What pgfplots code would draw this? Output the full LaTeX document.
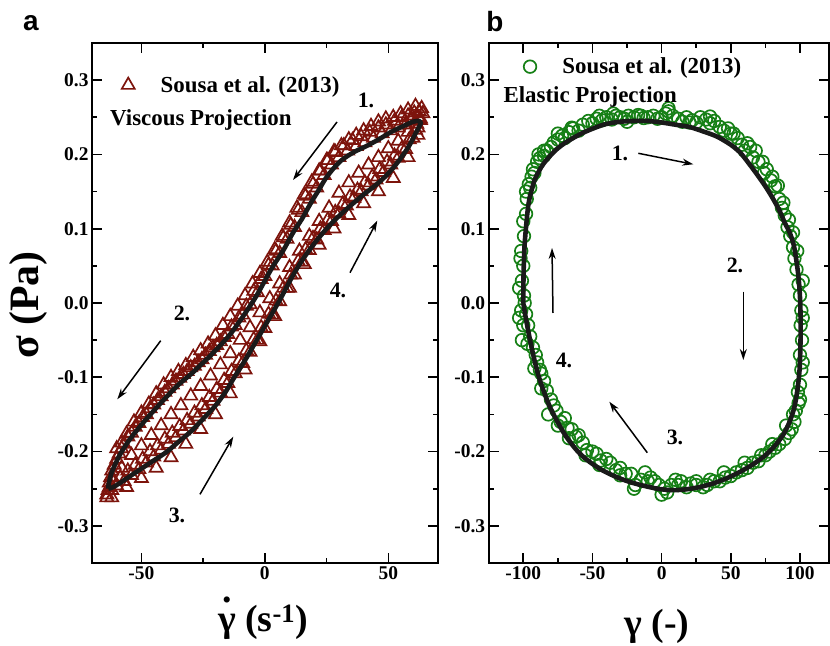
\documentclass[border=0pt]{standalone}
\usepackage{fontspec}
\setmainfont{Liberation Serif}
\newfontfamily\lsans{Liberation Sans}
\usepackage{pgfplots}
\pgfplotsset{compat=1.18}
\usetikzlibrary{arrows.meta}
\definecolor{tri}{RGB}{125,20,12}
\definecolor{grn}{RGB}{22,128,22}
\definecolor{crv}{RGB}{26,26,26}
\newcommand{\gdot}{\ooalign{γ\cr\hidewidth\raisebox{0.76em}{.}\hidewidth\cr}}
\pgfplotsset{
 geomA/.style={at={(92bp,83bp)}, anchor=south west, scale only axis,
   width=345.7bp, height=520bp, xmin=-70, xmax=70, ymin=-0.35, ymax=0.35},
 geomB/.style={at={(488.7bp,83bp)}, anchor=south west, scale only axis,
   width=340.3bp, height=520bp, xmin=-125, xmax=121, ymin=-0.35, ymax=0.35},
 myaxis/.style={
  ytick={-0.3,-0.2,-0.1,0,0.1,0.2,0.3},
  yticklabels={-0.3,-0.2,-0.1,0.0,0.1,0.2,0.3},
  minor ytick={-0.25,-0.15,-0.05,0.05,0.15,0.25},
  tick align=inside,
  major tick length=10bp, minor tick length=5bp,
  axis line style={line width=1.6bp},
  every tick/.style={line width=1.6bp, black},
  tick label style={font=\bfseries\fontsize{19.5}{21}\selectfont},
  legend style={draw=none, fill=none, inner sep=0pt, anchor=west,
    font=\bfseries\fontsize{23}{26}\selectfont},
 },
 crvstyle/.style={crv, line width=4.6bp, smooth, tension=0.5, line join=round}
}
\begin{document}
\begin{tikzpicture}[x=1bp,y=1bp]
\useasboundingbox (0,0) rectangle (830,646);
% ---------------- panel a ----------------
\begin{axis}[geomA, myaxis,
  xtick={-50,0,50}, xticklabels={-50,0,50}, minor xtick={-25,25},
  legend style={at={(0.0855,0.919)}}]
\addplot[only marks, mark=triangle, mark size=7.5bp, tri, line width=1.7bp]
coordinates {
(64,0.255) (63.5,0.262) (63,0.248) (62.5,0.258) (62,0.250) (61.5,0.241) (60.5,0.256)
(59.5,0.247) (58,0.252) (57,0.240) (55.5,0.250) (54,0.236) (52.5,0.245) (51,0.232)
(49,0.240) (47.5,0.228) (46,0.236) (44,0.222) (42.5,0.230) (40.5,0.216) (39,0.224)
(37,0.211) (35.5,0.219) (33.5,0.205) (32,0.212) (30,0.196) (28.5,0.203) (27,0.186)
(25.5,0.192) (24,0.172) (22.5,0.178) (21,0.155) (19.5,0.160) (18,0.140) (16.5,0.144)
(15,0.122) (13.5,0.125) (12,0.102) (10.5,0.105) (9,0.086) (7.5,0.088) (6,0.067)
(4.5,0.070) (3,0.050) (1.5,0.051) (0,0.036) (-1.5,0.032) (-3,0.014) (-4.5,0.016)
(-6,-0.002) (-7.5,-0.004) (-9,-0.016) (-10.5,-0.020) (-12,-0.030) (-13.5,-0.032)
(-15,-0.042) (-16.5,-0.046) (-18,-0.052) (-19.5,-0.057) (-21,-0.060) (-22.5,-0.065)
(-24,-0.070) (-25.5,-0.076) (-27,-0.080) (-28.5,-0.085) (-30,-0.087) (-31.5,-0.092)
(-33,-0.096) (-34.5,-0.101) (-36,-0.105) (-37.5,-0.110) (-39,-0.115) (-40.5,-0.120)
(-42,-0.126) (-43.5,-0.131) (-45,-0.137) (-46.5,-0.142) (-48,-0.150) (-49.5,-0.154)
(-51,-0.162) (-52.5,-0.167) (-54,-0.175) (-55.5,-0.180) (-57,-0.190) (-58,-0.196)
(-59,-0.203) (-60,-0.210) (-61,-0.218) (-62,-0.226) (-62.5,-0.235) (-63,-0.242)
(-63.5,-0.252) (-64,-0.262)
(-64,-0.258) (-63,-0.248) (-62,-0.252) (-61,-0.240) (-60,-0.246) (-58.5,-0.235)
(-57,-0.240) (-55.5,-0.226) (-54,-0.232) (-52.5,-0.218) (-51,-0.224) (-49.5,-0.210)
(-48,-0.215) (-46.5,-0.200) (-45,-0.207) (-43.5,-0.192) (-42,-0.198) (-40.5,-0.183)
(-39,-0.190) (-37.5,-0.175) (-36,-0.181) (-34.5,-0.166) (-33,-0.172) (-31.5,-0.158)
(-30,-0.163) (-28.5,-0.148) (-27,-0.153) (-25.5,-0.138) (-24,-0.143) (-22.5,-0.127)
(-21,-0.132) (-19.5,-0.116) (-18,-0.121) (-16.5,-0.104) (-15,-0.108) (-13.5,-0.092)
(-12,-0.095) (-10.5,-0.078) (-9,-0.081) (-7.5,-0.064) (-6,-0.066) (-4.5,-0.049)
(-3,-0.050) (-1.5,-0.033) (0,-0.034) (1.5,-0.015) (3,-0.016) (4.5,0.003) (6,0.002)
(7.5,0.020) (9,0.020) (10.5,0.038) (12,0.038) (13.5,0.056) (15,0.055) (16.5,0.072)
(18,0.071) (19.5,0.087) (21,0.085) (22.5,0.100) (24,0.098) (25.5,0.112) (27,0.110)
(28.5,0.122) (30,0.120) (31.5,0.133) (33,0.131) (34.5,0.143) (36,0.141) (37.5,0.152)
(39,0.150) (40.5,0.162) (42,0.158) (43.5,0.170) (45,0.166) (46.5,0.180) (48,0.176)
(49.5,0.190) (51,0.186) (52.5,0.198) (54,0.195) (55.5,0.208) (57,0.207) (58.5,0.220)
(60,0.222) (61,0.233) (62,0.236) (63,0.246)
(-60,-0.196) (-58,-0.188) (-56,-0.176) (-53,-0.160) (-50,-0.148) (-47,-0.136)
(-44,-0.122) (-41,-0.110) (-38,-0.100) (-35,-0.092) (-32,-0.084) (-29,-0.073)
(-26,-0.064) (-23,-0.055) (-20,-0.044) (-17,-0.030) (-14,-0.018) (-11,-0.004)
(-8,0.010) (-5,0.026) (-2,0.040) (1,0.055) (4,0.072) (7,0.090) (10,0.108) (13,0.128)
(16,0.146) (19,0.163) (22,0.178) (25,0.192) (28,0.204) (31,0.212) (34,0.220)
(37,0.226) (40,0.232) (43,0.238) (46,0.244) (49,0.248) (52,0.250) (55,0.255)
(58,0.260) (61,0.265)
(-58,-0.222) (-54,-0.205) (-50,-0.192) (-46,-0.178) (-42,-0.165) (-38,-0.150)
(-34,-0.138) (-30,-0.125) (-26,-0.112) (-22,-0.098) (-18,-0.083) (-14,-0.068)
(-10,-0.050) (-6,-0.033) (-2,-0.013) (2,0.006) (6,0.026) (10,0.048) (14,0.070)
(18,0.090) (22,0.110) (26,0.128) (30,0.148) (34,0.162) (38,0.175) (42,0.186)
(46,0.196) (50,0.208) (54,0.218) (58,0.230)
(-62,-0.262) (-56,-0.248) (-50,-0.236) (-44,-0.222) (-38,-0.208) (-32,-0.190)
(-26,-0.170) (-20,-0.150) (-14,-0.122) (-8,-0.090) (-2,-0.052) (4,-0.018) (10,0.020)
(16,0.052) (22,0.078) (28,0.100) (34,0.118) (40,0.134) (46,0.150) (52,0.168)
(58,0.196) (62,0.226)
};
\addlegendentry{\hspace{24bp}Sousa et al. (2013)}
\end{axis}
\begin{axis}[geomA, hide axis]
\addplot[crvstyle]
coordinates {
(-63.4,-0.250) (-61.5,-0.248) (-59,-0.243) (-55,-0.234) (-50,-0.223) (-45,-0.212)
(-40,-0.201) (-35,-0.187) (-30,-0.173) (-25,-0.156) (-20,-0.138) (-16,-0.120)
(-12,-0.098) (-8,-0.077) (-4,-0.054) (0,-0.031) (4,-0.008) (7.5,0.013) (11,0.035)
(15,0.057) (20,0.080) (25,0.100) (30,0.117) (35,0.132) (40,0.146) (45,0.159)
(49,0.171) (52.5,0.184) (55.7,0.198) (58.5,0.212) (61,0.228) (62.6,0.238) (63.2,0.243)
(62.5,0.245) (60,0.244) (56,0.238) (51,0.230) (46,0.220) (41,0.211) (36,0.203)
(31,0.192) (27.5,0.180) (24.5,0.167) (22,0.153) (19.4,0.139) (17,0.125) (15,0.113)
(11.3,0.094) (7.5,0.071) (3.2,0.049) (0,0.030) (-3.5,0.009) (-7,-0.009) (-10.5,-0.026)
(-14,-0.042) (-18.3,-0.058) (-23,-0.074) (-26.5,-0.085) (-30,-0.096) (-35,-0.110)
(-40,-0.127) (-45,-0.145) (-50,-0.164) (-55,-0.185) (-59,-0.206) (-62,-0.228)
(-63.2,-0.243) (-63.4,-0.250)
};
\end{axis}
% ---------------- panel b ----------------
\begin{axis}[geomB, myaxis,
  xtick={-100,-50,0,50,100}, xticklabels={-100,-50,0,50,100},
  minor xtick={-75,-25,25,75},
  legend style={at={(0.1024,0.9545)}}]
\addplot[only marks, mark=o, mark size=6.3bp, grn, line width=1.7bp]
coordinates {
(-101,-0.05) (-100,-0.03) (-101.5,-0.01) (-99.5,0.01) (-101,0.03) (-100,0.05)
(-101.5,0.07) (-99.5,0.09) (-100,0.11) (-98,0.12) (-97.5,0.14) (-95,0.155) (-96,0.16)
(-92,0.175) (-93,0.18) (-90,0.19) (-88,0.195) (-89,0.20) (-85,0.198) (-83,0.205)
(-80,0.21) (-78,0.216) (-75,0.22) (-72,0.225) (-70,0.222) (-67,0.23) (-64,0.235)
(-60,0.232) (-57,0.24) (-53,0.245) (-50,0.242) (-47,0.248) (-43,0.246) (-40,0.25)
(-36,0.247) (-33,0.252) (-30,0.25) (-27,0.248) (-24,0.252) (-20,0.25) (-17,0.253)
(-13,0.249) (-10,0.25) (-6,0.252) (-3,0.248) (0,0.25) (3,0.255) (5,0.258) (8,0.252)
(12,0.248) (15,0.244) (18,0.25) (22,0.246) (25,0.243) (28,0.25) (32,0.247) (35,0.242)
(38,0.245) (42,0.237) (45,0.232) (48,0.235) (52,0.228) (55,0.222) (58,0.213)
(60,0.205) (64,0.21) (66,0.196) (70,0.19) (74,0.175) (76,0.18) (79,0.165) (82,0.157)
(85,0.14) (87,0.128) (89,0.118) (91,0.102) (93,0.09) (95,0.075) (96,0.06) (97.5,0.045)
(99,0.025) (100,0.01) (101,-0.01) (100.5,-0.03) (101.5,-0.05) (100,-0.07) (101,-0.09)
(100,-0.11) (98.5,-0.12) (99,-0.135) (97,-0.145) (96,-0.16) (94,-0.17) (92,-0.175)
(89,-0.183) (85,-0.19) (82,-0.195) (78,-0.2) (75,-0.205) (70,-0.213) (66,-0.215)
(62,-0.222) (58,-0.225) (54,-0.228) (50,-0.233) (46,-0.235) (42,-0.24) (38,-0.24)
(33,-0.245) (30,-0.248) (25,-0.245) (21,-0.243) (18,-0.248) (14,-0.24) (10,-0.238)
(7,-0.245) (4,-0.255) (2,-0.25) (-2,-0.245) (-5,-0.24) (-8,-0.235) (-12,-0.228)
(-15,-0.238) (-19,-0.245) (-22,-0.23) (-26,-0.23) (-30,-0.222) (-33,-0.225)
(-37,-0.215) (-40,-0.21) (-44,-0.212) (-47,-0.203) (-50,-0.2) (-54,-0.198)
(-57,-0.188) (-60,-0.178) (-62,-0.18) (-65,-0.17) (-68,-0.168) (-70,-0.155)
(-73,-0.16) (-76,-0.145) (-78,-0.138) (-80,-0.13) (-83,-0.118) (-85,-0.105)
(-87,-0.095) (-88,-0.09) (-90,-0.08) (-91,-0.07) (-93,-0.06) (-95,-0.045)
(-96.5,-0.03) (-98,-0.015) (-99,0.0)
(68,0.205) (73,0.19) (80,0.17) (84,0.158) (88,0.135) (-103,0.02) (-102,0.06)
(-103,-0.02) (-98,0.15) (-94,0.17) (-85,0.205) (-75,0.228) (-65,0.236) (-45,0.252)
(-35,0.255) (-25,0.244) (-15,0.252) (5,0.262) (20,0.243) (35,0.251) (50,0.228)
(62,0.215) (92,0.112) (95,0.095) (98,0.07) (102,0.03) (102,-0.02) (102,-0.08)
(100,-0.13) (95,-0.15) (90,-0.165) (80,-0.19) (72,-0.205) (60,-0.215) (45,-0.228)
(35,-0.238) (25,-0.24) (12,-0.245) (0,-0.258) (-10,-0.24) (-20,-0.25) (-30,-0.232)
(-45,-0.218) (-55,-0.205) (-67,-0.182) (-75,-0.165) (-82,-0.15) (-87,-0.115)
(-92,-0.088) (-97,-0.055)
};
\addlegendentry{\hspace{24bp}Sousa et al. (2013)}
\end{axis}
\begin{axis}[geomB, hide axis]
\addplot[crvstyle]
coordinates {
(-100,0.00) (-99.8,0.04) (-99,0.08) (-96.5,0.130) (-94,0.152) (-91.5,0.167)
(-87,0.183) (-83,0.193) (-77,0.205) (-71,0.214) (-64,0.222) (-57,0.229) (-48,0.236)
(-40,0.241) (-30,0.244) (-20,0.245) (-10,0.245) (0,0.243) (10,0.240) (20,0.237)
(30,0.231) (40,0.224) (50,0.213) (57,0.202) (63,0.188) (69,0.173) (75,0.157)
(80,0.142) (85,0.125) (89,0.108) (92.5,0.095) (95.5,0.078) (97.8,0.052) (99.3,0.028)
(100.2,0.000) (100.5,-0.030) (100.3,-0.060) (99.7,-0.090) (98.3,-0.115) (96,-0.140)
(92.5,-0.160) (88,-0.177) (82,-0.192) (75,-0.205) (67,-0.216) (57,-0.227) (47,-0.236)
(37,-0.243) (27,-0.248) (17,-0.251) (7,-0.252) (-3,-0.250) (-13,-0.246) (-23,-0.241)
(-33,-0.234) (-43,-0.225) (-52,-0.214) (-59,-0.203) (-65,-0.190) (-70,-0.177)
(-75,-0.161) (-80,-0.143) (-84,-0.125) (-88,-0.104) (-91,-0.084) (-94,-0.060)
(-96.5,-0.037) (-98.5,-0.017) (-100,0.00)
};
\end{axis}
% ---------------- annotations ----------------
\node[font=\lsans\bfseries\fontsize{28}{30}\selectfont] at (31,623) {a};
\node[font=\lsans\bfseries\fontsize{28}{30}\selectfont] at (495,624) {b};
\node[font=\bfseries\fontsize{42}{44}\selectfont, rotate=90] at (28,341) {σ (Pa)};
\node[font=\bfseries\fontsize{38}{40}\selectfont] at (263,24) {\gdot\ (s\textsuperscript{-1})};
\node[font=\bfseries\fontsize{38}{40}\selectfont] at (657,20) {γ (-)};
\begin{scope}[font=\bfseries\fontsize{23}{26}\selectfont]
\node[anchor=west, inner sep=0pt] at (110,526) {Viscous Projection};
\node[anchor=west, inner sep=0pt] at (503.3,549.3) {Elastic Projection};
\end{scope}
\begin{scope}[font=\bfseries\fontsize{22}{24}\selectfont]
\node at (366,546) {1.};
\node at (182,333) {2.};
\node at (177,131) {3.};
\node at (338,356) {4.};
\node at (620,493) {1.};
\node at (735,381) {2.};
\node at (675,209) {3.};
\node at (564,286) {4.};
\end{scope}
\begin{scope}[line width=1.5bp, -{Stealth[length=11bp,width=7bp]}]
\draw (337,524) -- (293,466);
\draw (160.7,305.3) -- (117.3,246.7);
\draw (200,151.7) -- (233.3,209.3);
\draw (350,373.3) -- (377.3,425.3);
\draw (638.3,492.7) -- (693.3,481.7);
\draw (743.3,354.3) -- (743.3,286);
\draw (647.3,193.3) -- (609.3,244.3);
\draw (553,333) -- (552,398);
\end{scope}
\end{tikzpicture}
\end{document}
